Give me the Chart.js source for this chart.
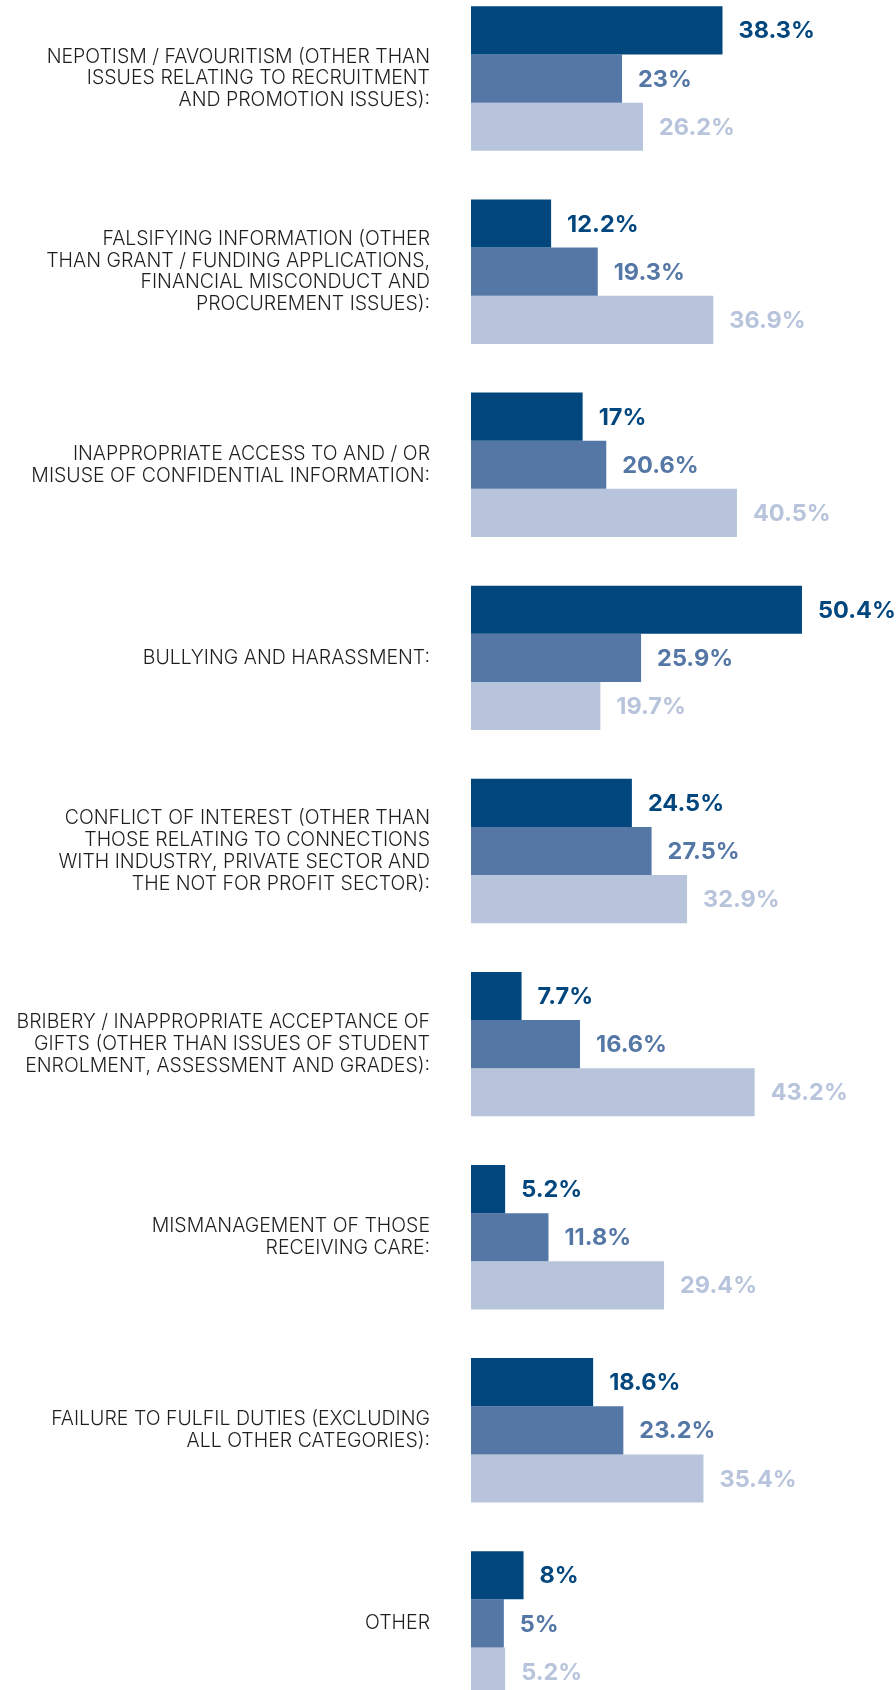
<!DOCTYPE html>
<html>
<head>
<meta charset="utf-8">
<script src="https://cdn.jsdelivr.net/npm/chart.js@4/dist/chart.umd.min.js"></script>
<style>
  html, body { margin: 0; padding: 0; background: #ffffff; overflow: hidden; }
  body { width: 896px; height: 1690px; position: relative; }
  #chart { position: absolute; left: 0; top: -18px; }
</style>
</head>
<body>
<canvas id="chart" width="896" height="1738"></canvas>
<script>
// Issue categories (multi-line labels)
const categories = [
  ["NEPOTISM / FAVOURITISM (OTHER THAN", "ISSUES RELATING TO RECRUITMENT", "AND PROMOTION ISSUES):"],
  ["FALSIFYING INFORMATION (OTHER", "THAN GRANT / FUNDING APPLICATIONS,", "FINANCIAL MISCONDUCT AND", "PROCUREMENT ISSUES):"],
  ["INAPPROPRIATE ACCESS TO AND / OR", "MISUSE OF CONFIDENTIAL INFORMATION:"],
  ["BULLYING AND HARASSMENT:"],
  ["CONFLICT OF INTEREST (OTHER THAN", "THOSE RELATING TO CONNECTIONS", "WITH INDUSTRY, PRIVATE SECTOR AND", "THE NOT FOR PROFIT SECTOR):"],
  ["BRIBERY / INAPPROPRIATE ACCEPTANCE OF", "GIFTS (OTHER THAN ISSUES OF STUDENT", "ENROLMENT, ASSESSMENT AND GRADES):"],
  ["MISMANAGEMENT OF THOSE", "RECEIVING CARE:"],
  ["FAILURE TO FULFIL DUTIES (EXCLUDING", "ALL OTHER CATEGORIES):"],
  ["OTHER"]
];

// Percentages for the three series
const seriesA = [38.3, 12.2, 17, 50.4, 24.5, 7.7, 5.2, 18.6, 8];
const seriesB = [23, 19.3, 20.6, 25.9, 27.5, 16.6, 11.8, 23.2, 5];
const seriesC = [26.2, 36.9, 40.5, 19.7, 32.9, 43.2, 29.4, 35.4, 5.2];

const seriesNames = ["Series A", "Series B", "Series C"];
const seriesColors = ["#01467d", "#5477a6", "#b8c4dc"];

// Writes each bar's percentage just past its end, in the bar's colour
const valueLabels = {
  id: 'valueLabels',
  afterDatasetsDraw(chart) {
    const ctx = chart.ctx;
    ctx.save();
    ctx.font = '700 23.5px Inter, "Open Sans", sans-serif';
    ctx.textAlign = 'left';
    ctx.textBaseline = 'middle';
    chart.data.datasets.forEach((ds, di) => {
      const meta = chart.getDatasetMeta(di);
      meta.data.forEach((bar, i) => {
        ctx.fillStyle = ds.backgroundColor;
        ctx.fillText(String(ds.data[i]) + '%', bar.x + 16, bar.y + 1);
      });
    });
    ctx.restore();
  }
};

new Chart(document.getElementById('chart'), {
  type: 'bar',
  data: {
    labels: categories,
    datasets: [seriesA, seriesB, seriesC].map((d, k) => ({
      label: seriesNames[k],
      data: d,
      backgroundColor: seriesColors[k],
      borderWidth: 0,
      categoryPercentage: 0.748,
      barPercentage: 1.0
    }))
  },
  options: {
    indexAxis: 'y',
    responsive: false,
    devicePixelRatio: 1,
    animation: false,
    layout: { padding: { left: 0, right: 31, top: 0, bottom: 0 } },
    plugins: { legend: { display: false }, tooltip: { enabled: false } },
    scales: {
      x: { min: 0, max: 60, display: false },
      y: {
        grid: { display: false, drawTicks: false },
        border: { display: false },
        ticks: {
          padding: 41,
          color: '#1e1e1e',
          font: { family: 'Inter, "Open Sans", sans-serif', weight: 300, size: 19.5, lineHeight: 1.12 }
        },
        afterFit(scale) {
          // keep the plot area flush with the canvas edges
          scale.width = 471;
          scale.paddingTop = 0;
          scale.paddingBottom = 0;
        }
      }
    }
  },
  plugins: [valueLabels]
});
</script>
</body>
</html>
